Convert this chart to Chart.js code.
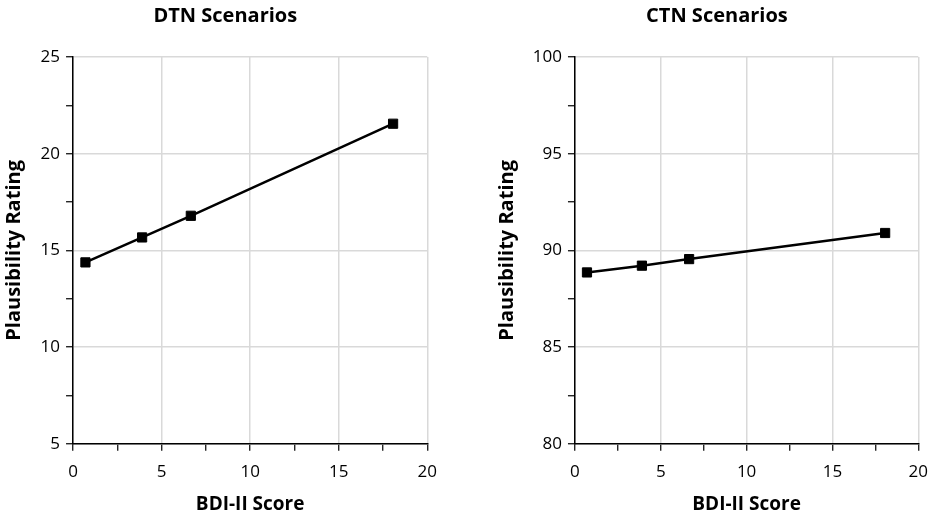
<!DOCTYPE html>
<html>
<head>
<meta charset="utf-8">
<script src="https://cdn.jsdelivr.net/npm/chart.js@4"></script>
<style>
  body { margin: 0; background: #fff; width: 935px; height: 516px; position: relative; overflow: hidden; }
  canvas { position: absolute; top: 0; }
  #dtn-chart { left: 0; }
  #ctn-chart { left: 490px; }
</style>
</head>
<body>
<canvas id="dtn-chart" width="448" height="516"></canvas>
<canvas id="ctn-chart" width="449" height="516"></canvas>
<script>
// BDI-II score at each of the four points
const bdiScores = [0.7, 3.9, 6.65, 18.07];
// mean plausibility ratings
const dtnRatings = [14.38, 15.67, 16.79, 21.55];
const ctnRatings = [88.86, 89.21, 89.55, 90.9];
// axis ranges
const bdiRange = [0, 20];
const dtnRange = [5, 25];
const ctnRange = [80, 100];

const fontFamily = "'Open Sans', 'Liberation Sans', sans-serif";

// minor ticks every 2.5, labels and grid only on multiples of 5
function isMajor(v) {
    return Math.abs(v / 5 - Math.round(v / 5)) < 1e-6;
}

function makeChart(canvasId, titleText, ratings, yRange, leftPad) {
    const ctx = document.getElementById(canvasId).getContext('2d');
    const points = bdiScores.map((x, i) => ({ x: x, y: ratings[i] }));

    const gridOpts = {
        color: (c) => (c.tick && isMajor(c.tick.value)) ? '#d9d9d9' : 'rgba(0,0,0,0)',
        tickColor: '#000',
        lineWidth: 1.5,
        tickWidth: 1.2,
        tickLength: 7
    };

    return new Chart(ctx, {
        type: 'scatter',
        data: {
            datasets: [{
                data: points,
                showLine: true,
                borderColor: '#000',
                borderWidth: 2.5,
                backgroundColor: '#000',
                pointStyle: 'rect',
                pointRadius: 6.5,
                pointBorderWidth: 1,
                pointBorderColor: '#000'
            }]
        },
        options: {
            responsive: false,
            animation: false,
            devicePixelRatio: 1,
            layout: { padding: { left: leftPad, right: 0, top: 0, bottom: 0 } },
            plugins: {
                legend: { display: false },
                tooltip: { enabled: false },
                title: {
                    display: true,
                    text: titleText,
                    color: '#000',
                    font: { family: fontFamily, size: 20, weight: 'bold' },
                    padding: { top: 4, bottom: 29 }
                }
            },
            scales: {
                x: {
                    type: 'linear',
                    min: bdiRange[0],
                    max: bdiRange[1],
                    border: { color: '#000', width: 1.5 },
                    grid: gridOpts,
                    ticks: {
                        stepSize: 2.5,
                        color: '#000',
                        padding: 11,
                        maxRotation: 0,
                        autoSkip: false,
                        font: { family: fontFamily, size: 17 },
                        callback: (v) => isMajor(v) ? String(v) : ''
                    },
                    title: {
                        display: true,
                        text: 'BDI-II Score',
                        color: '#000',
                        font: { family: fontFamily, size: 19, weight: 'bold' },
                        padding: { top: 0, bottom: 0 }
                    }
                },
                y: {
                    type: 'linear',
                    min: yRange[0],
                    max: yRange[1],
                    border: { color: '#000', width: 1.5 },
                    grid: gridOpts,
                    ticks: {
                        stepSize: 2.5,
                        color: '#000',
                        padding: 6,
                        autoSkip: false,
                        font: { family: fontFamily, size: 17 },
                        callback: (v) => isMajor(v) ? String(v) : ''
                    },
                    title: {
                        display: true,
                        text: 'Plausibility Rating',
                        color: '#000',
                        font: { family: fontFamily, size: 20, weight: 'bold' },
                        padding: { top: 0, bottom: 8 }
                    }
                }
            }
        }
    });
}

makeChart('dtn-chart', 'DTN Scenarios', dtnRatings, dtnRange, 2.6);
makeChart('ctn-chart', 'CTN Scenarios', ctnRatings, ctnRange, 4.8);
</script>
</body>
</html>
